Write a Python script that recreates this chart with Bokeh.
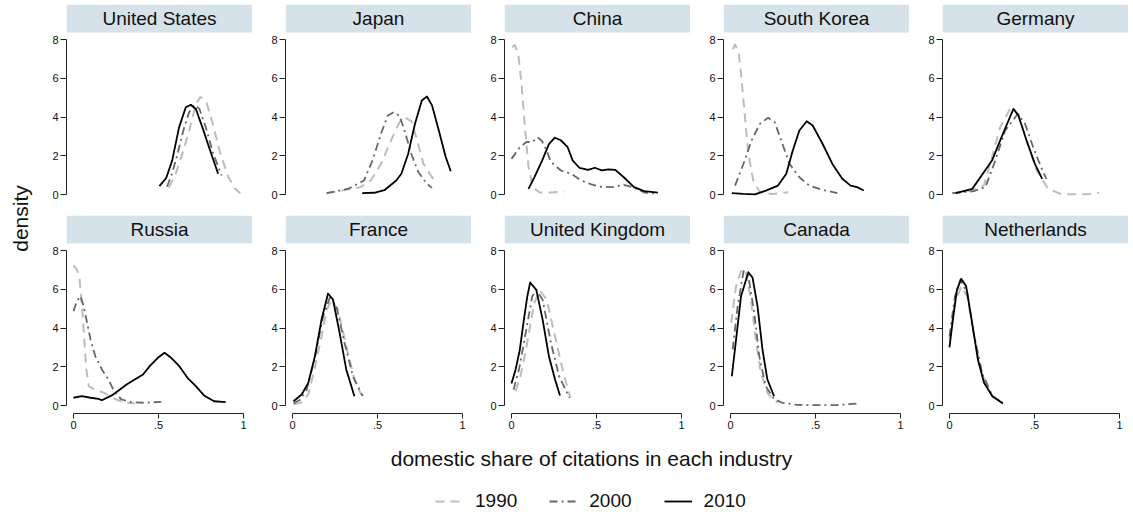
import math
from bokeh.plotting import figure
from bokeh.models import Range1d, FixedTicker, BoxAnnotation, Label, Legend, LegendItem
from bokeh.layouts import row, column
from bokeh.embed import file_html
from bokeh.resources import INLINE

# ---------------- data ----------------
countries = ["United States", "Japan", "China", "South Korea", "Germany",
             "Russia", "France", "United Kingdom", "Canada", "Netherlands"]
years = ["1990", "2000", "2010"]
y_ticks = [0, 2, 4, 6, 8]
x_ticks = [0, 0.5, 1]
x_tick_labels = {0: "0", 0.5: ".5", 1: "1"}

us_1990_x = [0.56, 0.60, 0.64, 0.68, 0.72, 0.745, 0.78, 0.82, 0.86, 0.91, 0.95, 0.98]
us_1990_y = [0.35, 1.05, 2.10, 3.30, 4.68, 5.03, 4.80, 3.60, 2.20, 0.90, 0.30, 0.06]
us_2000_x = [0.55, 0.58, 0.61, 0.65, 0.68, 0.71, 0.74, 0.78, 0.82, 0.87]
us_2000_y = [0.40, 1.10, 2.05, 3.45, 4.25, 4.62, 4.42, 3.40, 2.15, 0.98]
us_2010_x = [0.505, 0.545, 0.58, 0.62, 0.66, 0.69, 0.72, 0.76, 0.80, 0.85]
us_2010_y = [0.43, 0.85, 1.75, 3.45, 4.50, 4.63, 4.40, 3.40, 2.35, 1.07]

jp_1990_x = [0.20, 0.30, 0.40, 0.46, 0.52, 0.58, 0.63, 0.66, 0.70, 0.73, 0.77, 0.82, 0.85]
jp_1990_y = [0.07, 0.22, 0.38, 0.72, 1.58, 2.80, 3.75, 3.98, 3.78, 2.85, 1.58, 0.89, 0.63]
jp_2000_x = [0.20, 0.33, 0.42, 0.47, 0.52, 0.56, 0.595, 0.63, 0.66, 0.70, 0.74, 0.79, 0.82]
jp_2000_y = [0.07, 0.30, 0.72, 1.75, 3.13, 4.08, 4.25, 4.05, 3.25, 2.05, 1.15, 0.55, 0.34]
jp_2010_x = [0.41, 0.48, 0.54, 0.61, 0.64, 0.68, 0.72, 0.76, 0.79, 0.82, 0.86, 0.90, 0.93]
jp_2010_y = [0.07, 0.09, 0.22, 0.72, 1.07, 2.10, 3.65, 4.85, 5.06, 4.60, 3.30, 1.95, 1.20]

cn_1990_x = [0.005, 0.02, 0.04, 0.06, 0.08, 0.10, 0.125, 0.165, 0.23, 0.31]
cn_1990_y = [7.60, 7.72, 7.25, 5.60, 3.40, 1.45, 0.38, 0.10, 0.10, 0.15]
cn_2000_x = [0.0, 0.05, 0.09, 0.12, 0.155, 0.18, 0.21, 0.23, 0.29, 0.35, 0.41, 0.47,
             0.52, 0.60, 0.66, 0.72, 0.78, 0.86]
cn_2000_y = [1.84, 2.45, 2.72, 2.70, 2.95, 2.75, 2.20, 1.70, 1.24, 1.07, 0.72, 0.52,
             0.40, 0.38, 0.50, 0.36, 0.10, 0.05]
cn_2010_x = [0.10, 0.135, 0.18, 0.22, 0.255, 0.29, 0.33, 0.36, 0.40, 0.45, 0.49, 0.53,
             0.57, 0.61, 0.66, 0.72, 0.78, 0.86]
cn_2010_y = [0.29, 0.90, 1.75, 2.60, 2.93, 2.80, 2.44, 1.75, 1.38, 1.27, 1.38, 1.25,
             1.30, 1.27, 0.89, 0.38, 0.17, 0.10]

kr_1990_x = [0.014, 0.027, 0.047, 0.066, 0.085, 0.105, 0.134, 0.173, 0.25, 0.34]
kr_1990_y = [7.50, 7.74, 7.40, 5.88, 3.99, 2.10, 0.72, 0.12, 0.02, 0.12]
kr_2000_x = [0.027, 0.076, 0.124, 0.173, 0.221, 0.26, 0.298, 0.347, 0.405, 0.463, 0.541, 0.628]
kr_2000_y = [0.46, 1.58, 2.79, 3.65, 3.96, 3.73, 2.79, 1.58, 0.89, 0.46, 0.24, 0.07]
kr_2010_x = [0.008, 0.076, 0.144, 0.212, 0.279, 0.328, 0.366, 0.405, 0.448, 0.483, 0.541,
             0.599, 0.657, 0.706, 0.744, 0.783]
kr_2010_y = [0.07, 0.03, 0.01, 0.21, 0.46, 1.07, 2.27, 3.30, 3.78, 3.56, 2.62,
             1.58, 0.81, 0.46, 0.38, 0.21]

de_1990_x = [0.017, 0.134, 0.202, 0.25, 0.298, 0.356, 0.405, 0.453, 0.512, 0.58, 0.657,
             0.754, 0.831, 0.88]
de_1990_y = [0.07, 0.21, 0.46, 1.93, 3.47, 4.42, 4.16, 2.79, 1.24, 0.29, 0.02,
             0.01, 0.03, 0.09]
de_2000_x = [0.017, 0.143, 0.211, 0.269, 0.327, 0.401, 0.444, 0.492, 0.55, 0.57]
de_2000_y = [0.07, 0.17, 0.38, 1.75, 3.30, 4.16, 3.65, 2.44, 1.15, 0.81]
de_2010_x = [0.037, 0.134, 0.202, 0.25, 0.298, 0.347, 0.376, 0.405, 0.453, 0.502, 0.545]
de_2010_y = [0.07, 0.29, 1.15, 1.75, 2.79, 3.82, 4.42, 4.08, 2.79, 1.58, 0.81]

ru_1990_x = [0.0, 0.02, 0.035, 0.05, 0.062, 0.075, 0.09, 0.12, 0.18, 0.24, 0.30, 0.36]
ru_1990_y = [7.23, 7.02, 6.60, 5.10, 3.60, 1.90, 1.00, 0.85, 0.65, 0.35, 0.15, 0.10]
ru_2000_x = [0.0, 0.02, 0.041, 0.06, 0.08, 0.10, 0.128, 0.167, 0.205, 0.244, 0.283,
             0.341, 0.419, 0.516]
ru_2000_y = [4.87, 5.38, 5.64, 5.12, 4.27, 3.41, 2.55, 1.86, 1.34, 0.65, 0.31,
             0.17, 0.14, 0.19]
ru_2010_x = [0.0, 0.05, 0.10, 0.147, 0.167, 0.225, 0.273, 0.312, 0.36, 0.409, 0.448,
             0.496, 0.535, 0.574, 0.622, 0.67, 0.719, 0.767, 0.826, 0.894]
ru_2010_y = [0.40, 0.48, 0.40, 0.34, 0.27, 0.52, 0.83, 1.08, 1.34, 1.60, 2.03,
             2.46, 2.72, 2.46, 2.03, 1.43, 1.00, 0.52, 0.22, 0.17]

fr_1990_x = [0.006, 0.05, 0.093, 0.13, 0.171, 0.20, 0.229, 0.267, 0.316, 0.364, 0.403]
fr_1990_y = [0.05, 0.15, 0.57, 1.90, 3.58, 4.90, 5.45, 4.96, 3.06, 1.34, 0.57]
fr_2000_x = [0.006, 0.045, 0.083, 0.13, 0.18, 0.219, 0.258, 0.306, 0.355, 0.413]
fr_2000_y = [0.10, 0.30, 0.80, 2.40, 4.61, 5.56, 5.12, 3.24, 1.51, 0.48]
fr_2010_x = [0.006, 0.054, 0.093, 0.132, 0.171, 0.209, 0.238, 0.277, 0.316, 0.364]
fr_2010_y = [0.22, 0.57, 1.17, 2.55, 4.44, 5.78, 5.47, 3.75, 1.86, 0.48]

uk_1990_x = [0.024, 0.055, 0.085, 0.134, 0.166, 0.207, 0.256, 0.305, 0.346]
uk_1990_y = [0.74, 1.60, 2.88, 5.29, 5.94, 5.46, 3.57, 1.68, 0.39]
uk_2000_x = [0.012, 0.045, 0.073, 0.122, 0.146, 0.183, 0.232, 0.28, 0.341]
uk_2000_y = [0.82, 1.90, 3.23, 5.63, 5.97, 5.46, 3.23, 1.51, 0.39]
uk_2010_x = [0.0, 0.024, 0.049, 0.073, 0.093, 0.11, 0.146, 0.183, 0.22, 0.256, 0.285]
uk_2010_y = [1.13, 1.85, 2.88, 4.43, 5.63, 6.35, 5.97, 4.43, 2.54, 1.34, 0.52]

ca_1990_x = [0.004, 0.033, 0.066, 0.091, 0.12, 0.149, 0.178, 0.217, 0.256, 0.28]
ca_1990_y = [4.27, 6.16, 7.05, 6.85, 5.47, 3.41, 1.69, 0.65, 0.27, 0.15]
ca_2000_x = [0.013, 0.042, 0.077, 0.105, 0.14, 0.169, 0.207, 0.256, 0.304, 0.391,
             0.508, 0.624, 0.702, 0.75]
ca_2000_y = [2.89, 5.12, 6.93, 6.67, 4.78, 2.55, 1.00, 0.34, 0.14, 0.03,
             0.02, 0.02, 0.07, 0.10]
ca_2010_x = [0.008, 0.033, 0.062, 0.105, 0.13, 0.159, 0.188, 0.217, 0.256]
ca_2010_y = [1.51, 3.41, 5.64, 6.88, 6.59, 5.12, 2.89, 1.34, 0.48]

nl_1990_x = [0.0, 0.032, 0.069, 0.105, 0.142, 0.191, 0.252, 0.314]
nl_1990_y = [3.40, 5.29, 6.15, 5.63, 3.74, 1.68, 0.48, 0.14]
nl_2000_x = [0.0, 0.032, 0.064, 0.105, 0.142, 0.191, 0.252, 0.314]
nl_2000_y = [3.57, 5.63, 6.49, 5.80, 3.74, 1.68, 0.48, 0.14]
nl_2010_x = [0.0, 0.02, 0.044, 0.069, 0.098, 0.13, 0.167, 0.203, 0.252, 0.314]
nl_2010_y = [3.0, 4.43, 5.97, 6.54, 6.15, 4.43, 2.37, 1.17, 0.48, 0.10]

series = {
    "United States": [(us_1990_x, us_1990_y), (us_2000_x, us_2000_y), (us_2010_x, us_2010_y)],
    "Japan": [(jp_1990_x, jp_1990_y), (jp_2000_x, jp_2000_y), (jp_2010_x, jp_2010_y)],
    "China": [(cn_1990_x, cn_1990_y), (cn_2000_x, cn_2000_y), (cn_2010_x, cn_2010_y)],
    "South Korea": [(kr_1990_x, kr_1990_y), (kr_2000_x, kr_2000_y), (kr_2010_x, kr_2010_y)],
    "Germany": [(de_1990_x, de_1990_y), (de_2000_x, de_2000_y), (de_2010_x, de_2010_y)],
    "Russia": [(ru_1990_x, ru_1990_y), (ru_2000_x, ru_2000_y), (ru_2010_x, ru_2010_y)],
    "France": [(fr_1990_x, fr_1990_y), (fr_2000_x, fr_2000_y), (fr_2010_x, fr_2010_y)],
    "United Kingdom": [(uk_1990_x, uk_1990_y), (uk_2000_x, uk_2000_y), (uk_2010_x, uk_2010_y)],
    "Canada": [(ca_1990_x, ca_1990_y), (ca_2000_x, ca_2000_y), (ca_2010_x, ca_2010_y)],
    "Netherlands": [(nl_1990_x, nl_1990_y), (nl_2000_x, nl_2000_y), (nl_2010_x, nl_2010_y)],
}

# ---------------- styling ----------------
FONT = "Liberation Sans"
TXT = "#111111"
AX = "#222222"
STRIP = "#D6E2E9"
STYLES = [
    dict(line_color="#BDBDBD", line_width=2.0, line_dash="9 6"),
    dict(line_color="#686868", line_width=1.8, line_dash="8 4 2 4"),
    dict(line_color="#000000", line_width=1.8),
]

FW, FH = 186, 198          # frame size of each panel
BL = 33                    # left border (tick labels)
YL_W = 33                  # width of the "density" column
TOP = 4                    # space above the first row
GAP = 13                   # space between the rows
XAX = 26                   # height of the bottom x axis
XS, XE = -0.041, 1.052     # x range of a panel frame
PX_PER_Y = 155 / 8.0
YS = -8 / PX_PER_Y
HB = 8 + 7 / PX_PER_Y      # header strip bottom
YE = 8 + 35 / PX_PER_Y     # frame top (header top)


def make_panel(name, idx):
    bottom = idx >= 5
    p = figure(frame_width=FW, frame_height=FH,
               x_range=Range1d(XS, XE), y_range=Range1d(YS, YE),
               output_backend="svg", toolbar_location=None,
               x_axis_location="below" if bottom else None,
               y_axis_location="left",
               min_border_left=BL, min_border_right=0,
               min_border_top=0 if bottom else TOP,
               min_border_bottom=XAX if bottom else GAP,
               outline_line_color=None,
               background_fill_color="white", border_fill_color="white")
    p.grid.visible = False

    p.add_layout(BoxAnnotation(left=XS, right=XE, bottom=HB, top=YE,
                               fill_color=STRIP, fill_alpha=1.0,
                               line_color=None, level="underlay"))
    p.add_layout(Label(x=(XS + XE) / 2, y=(HB + YE) / 2, text=name,
                       text_align="center", text_baseline="middle",
                       text_font=FONT, text_font_size="19px", text_color=TXT))

    ya = p.yaxis[0]
    ya.ticker = FixedTicker(ticks=y_ticks)
    ya.bounds = (0, 8)
    ya.major_tick_out = 6
    ya.major_tick_in = 0
    ya.minor_tick_out = 0
    ya.minor_tick_in = 0
    ya.major_label_standoff = 2
    ya.major_label_text_font = FONT
    ya.major_label_text_font_size = "11px"
    ya.major_label_text_color = TXT
    ya.axis_line_color = AX
    ya.major_tick_line_color = AX

    if bottom:
        xa = p.xaxis[0]
        xa.ticker = FixedTicker(ticks=x_ticks)
        xa.major_label_overrides = x_tick_labels
        xa.bounds = (0, 1)
        xa.major_tick_out = 5
        xa.major_tick_in = 0
        xa.minor_tick_out = 0
        xa.minor_tick_in = 0
        xa.major_label_standoff = 2
        xa.major_label_text_font = FONT
        xa.major_label_text_font_size = "11px"
        xa.major_label_text_color = TXT
        xa.axis_line_color = AX
        xa.major_tick_line_color = AX

    for (xs, ys), st in zip(series[name], STYLES):
        p.line(xs, ys, line_join="round", **st)
    return p


panels = [make_panel(n, i) for i, n in enumerate(countries)]

GRID_H = (TOP + FH + GAP) + (FH + XAX)
TOTAL_W = YL_W + 5 * (FW + BL)

# y-axis title
yl = figure(width=YL_W, height=GRID_H, x_range=Range1d(0, YL_W), y_range=Range1d(0, GRID_H),
            min_border=0, x_axis_location=None, y_axis_location=None,
            outline_line_color=None, toolbar_location=None, output_backend="svg")
yl.grid.visible = False
yl.add_layout(Label(x=20, y=GRID_H - 218, text="density", angle=math.pi / 2,
                    text_align="center", text_baseline="middle",
                    text_font=FONT, text_font_size="21px", text_color=TXT))

# x-axis title and legend
BH = 74
bt = figure(width=TOTAL_W, height=BH, x_range=Range1d(0, TOTAL_W), y_range=Range1d(0, BH),
            min_border=0, x_axis_location=None, y_axis_location=None,
            outline_line_color=None, toolbar_location=None, output_backend="svg")
bt.grid.visible = False
bt.add_layout(Label(x=591, y=BH - 19, text="domestic share of citations in each industry",
                    text_align="center", text_baseline="middle",
                    text_font=FONT, text_font_size="21px", text_color=TXT))
items = []
NAN = float("nan")
for yr, st in zip(years, STYLES):
    r = bt.line(x=[NAN, NAN], y=[NAN, NAN], **st)
    items.append(LegendItem(label=yr, renderers=[r]))
leg = Legend(items=items, orientation="horizontal", location=(435, 1),
             glyph_width=28, glyph_height=20, label_standoff=12, spacing=32,
             padding=0, margin=0, border_line_color=None, background_fill_alpha=0,
             label_text_font=FONT, label_text_font_size="19px", label_text_color=TXT,
             label_height=20)
bt.add_layout(leg)

layout = column(row(yl, column(row(*panels[:5]), row(*panels[5:]))), bt)

open("out.html", "w").write(file_html(layout, INLINE))
